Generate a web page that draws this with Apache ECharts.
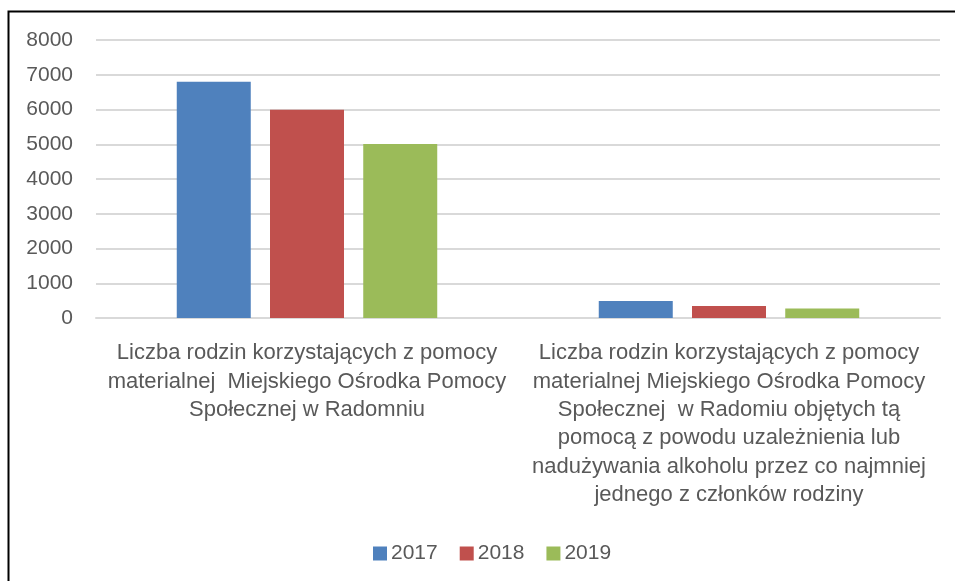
<!DOCTYPE html>
<html>
<head>
<meta charset="utf-8">
<script src="https://cdn.jsdelivr.net/npm/echarts@6/dist/echarts.min.js"></script>
<style>
  html, body { margin: 0; padding: 0; background: #fff; }
  #chart { width: 955px; height: 581px; }
</style>
</head>
<body>
<div id="chart"></div>
<script>
var categories = [
    'Liczba rodzin korzystających z pomocy\nmaterialnej  Miejskiego Ośrodka Pomocy\nSpołecznej w Radomniu',
    'Liczba rodzin korzystających z pomocy\nmaterialnej Miejskiego Ośrodka Pomocy\nSpołecznej  w Radomiu objętych tą\npomocą z powodu uzależnienia lub\nnadużywania alkoholu przez co najmniej\njednego z członków rodziny'
];
var years = ['2017', '2018', '2019'];
var values2017 = [6800, 490];
var values2018 = [5990, 345];
var values2019 = [5010, 275];
var colors = ['#4f81bd', '#c0504d', '#9bbb59'];

var font = '"Liberation Sans", Arial, sans-serif';
var chart = echarts.init(document.getElementById('chart'));

var seriesData = [values2017, values2018, values2019];
var series = years.map(function (y, i) {
    return {
        name: y,
        type: 'bar',
        data: seriesData[i],
        barWidth: 74,
        barGap: '26%',
        itemStyle: { color: colors[i] }
    };
});

chart.setOption({
    animation: false,
    color: colors,
    textStyle: { fontFamily: font },
    graphic: [{
        type: 'rect',
        shape: { x: 8.5, y: 11.5, width: 960, height: 600 },
        style: { fill: 'none', stroke: '#000', lineWidth: 2 }
    }],
    grid: { left: 96, right: 15, top: 40, bottom: 263 },
    legend: {
        data: years,
        top: 538,
        left: 368,
        itemWidth: 14,
        itemHeight: 14,
        itemGap: 22,
        icon: 'rect',
        textStyle: { fontSize: 21, color: '#595959', fontFamily: font, padding: [0, 0, 0, -1] }
    },
    xAxis: {
        type: 'category',
        data: categories,
        axisTick: { show: false },
        axisLine: { lineStyle: { color: '#d9d9d9', width: 2 } },
        axisLabel: {
            fontSize: 22,
            color: '#595959',
            lineHeight: 28.4,
            margin: 21,
            interval: 0,
            fontFamily: font
        }
    },
    yAxis: {
        type: 'value',
        min: 0,
        max: 8000,
        interval: 1000,
        axisLine: { show: false },
        axisTick: { show: false },
        splitLine: { lineStyle: { color: '#d9d9d9', width: 2 } },
        axisLabel: {
            fontSize: 21,
            color: '#595959',
            margin: 23,
            fontFamily: font,
            formatter: function (v) { return String(v); }
        }
    },
    series: series
});
</script>
</body>
</html>
